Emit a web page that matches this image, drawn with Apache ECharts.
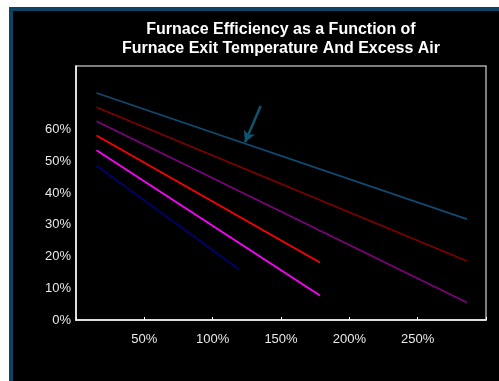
<!DOCTYPE html>
<html>
<head>
<meta charset="utf-8">
<script src="https://cdn.jsdelivr.net/npm/echarts@6/dist/echarts.min.js"></script>
<style>
  html, body { margin: 0; padding: 0; background: #ffffff; }
  #panel { position: absolute; left: 9px; top: 7px; width: 490px; height: 373px;
           background: #000000; border-left: 4px solid #0c4461; border-top: 4px solid #0c4461;
           box-sizing: content-box; }
  #chart { position: absolute; left: 0; top: 0; width: 499px; height: 381px; }
</style>
</head>
<body>
<div id="panel"></div>
<div id="chart"></div>
<script>
// Excess air (fraction) and furnace efficiency (fraction) for each curve
var seriesNames = ['Curve 1', 'Curve 2', 'Curve 3', 'Curve 4', 'Curve 5', 'Curve 6'];
var curve1X = [0.15, 1.19];  var curve1Y = [0.486, 0.160];
var curve2X = [0.15, 1.785]; var curve2Y = [0.535, 0.077];
var curve3X = [0.15, 1.785]; var curve3Y = [0.581, 0.181];
var curve4X = [0.15, 2.86];  var curve4Y = [0.626, 0.055];
var curve5X = [0.15, 2.86];  var curve5Y = [0.670, 0.186];
var curve6X = [0.15, 2.86];  var curve6Y = [0.715, 0.318];
var arrowFrom = [1.351, 0.674];
var arrowTo = [1.237, 0.560];
var xTickValues = [0.5, 1.0, 1.5, 2.0, 2.5];
var yTickValues = [0, 0.1, 0.2, 0.3, 0.4, 0.5, 0.6];
var titleLines = ['Furnace Efficiency as a Function of', 'Furnace Exit Temperature And Excess Air'];

var colors = ['#000080', '#ff00ff', '#ff0000', '#800080', '#800000', '#114a70'];
var widths = [1.5, 1.8, 1.8, 1.5, 1.5, 1.8];
var xs = [curve1X, curve2X, curve3X, curve4X, curve5X, curve6X];
var ys = [curve1Y, curve2Y, curve3Y, curve4Y, curve5Y, curve6Y];

function pct(v) { return Math.round(v * 100) + '%'; }
function near(list, v) { return list.some(function (t) { return Math.abs(t - v) < 1e-6; }); }

var series = xs.map(function (xa, i) {
  var s = {
    name: seriesNames[i], type: 'line', showSymbol: false, symbol: 'none',
    data: xa.map(function (x, j) { return [x, ys[i][j]]; }),
    lineStyle: { color: colors[i], width: widths[i] },
    itemStyle: { color: colors[i] },
    animation: false, silent: true
  };
  if (i === 5) {
    s.markLine = {
      silent: true, animation: false,
      symbol: ['none', 'arrow'], symbolSize: [9, 11],
      label: { show: false },
      lineStyle: { color: '#0e5572', width: 2.5, type: 'solid' },
      data: [[{ coord: arrowFrom }, { coord: arrowTo }]]
    };
  }
  return s;
});

var chart = echarts.init(document.getElementById('chart'), null, { renderer: 'canvas' });
chart.setOption({
  backgroundColor: 'transparent',
  animation: false,
  title: {
    text: titleLines.join('\n'),
    left: 281, top: 20, textAlign: 'center', padding: 0,
    textStyle: { color: '#ffffff', fontFamily: 'Arial, Liberation Sans', fontWeight: 'bold', fontSize: 16, lineHeight: 19 }
  },
  grid: { left: 76, right: 13, top: 66, bottom: 61, show: true, borderColor: '#a8a8a8', borderWidth: 1.5, backgroundColor: 'transparent' },
  xAxis: {
    type: 'value', min: 0, max: 3, interval: 0.5,
    axisLine: { show: true, onZero: false, lineStyle: { color: '#ffffff', width: 1.5 } },
    axisTick: { show: true, inside: true, length: 3, lineStyle: { color: '#ffffff' } },
    splitLine: { show: false },
    axisLabel: {
      color: '#e8e8e8', fontFamily: 'Arial, Liberation Sans', fontSize: 13, margin: 13,
      formatter: function (v) { return near(xTickValues, v) ? pct(v) : ''; }
    }
  },
  yAxis: {
    type: 'value', min: 0, max: 0.8, interval: 0.1,
    axisLine: { show: true, lineStyle: { color: '#ffffff', width: 1.5 } },
    axisTick: { show: false },
    splitLine: { show: false },
    axisLabel: {
      color: '#e8e8e8', fontFamily: 'Arial, Liberation Sans', fontSize: 13, margin: 5,
      formatter: function (v) { return near(yTickValues, v) ? pct(v) : ''; }
    }
  },
  series: series
});
</script>
</body>
</html>
